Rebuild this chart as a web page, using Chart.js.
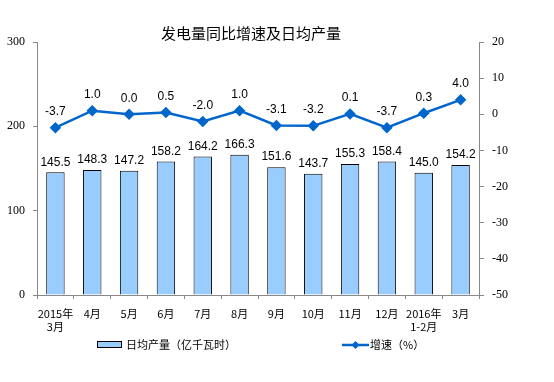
<!DOCTYPE html>
<html><head><meta charset="utf-8">
<script src="https://cdn.jsdelivr.net/npm/chart.js@4/dist/chart.umd.min.js"></script>
<style>html,body{margin:0;padding:0;background:#fff;}#wrap{width:554px;height:382px;}</style>
</head><body><div id="wrap"><canvas id="c" width="554" height="382"></canvas></div>
<script>
const categories = [['2015年','3月'],'4月','5月','6月','7月','8月','9月','10月','11月','12月',['2016年','1-2月'],'3月'];
const dailyOutput = [145.5,148.3,147.2,158.2,164.2,166.3,151.6,143.7,155.3,158.4,145.0,154.2];
const growthRate = [-3.7,1.0,0.0,0.5,-2.0,1.0,-3.1,-3.2,0.1,-3.7,0.3,4.0];
const leftTicks = [0,100,200,300];
const rightTicks = [-50,-40,-30,-20,-10,0,10,20];
const titleText = '发电量同比增速及日均产量';
const barLabel = '日均产量（亿千瓦时）';
const lineLabel = '增速（%）';

const CJK = '"Noto Sans CJK SC", sans-serif';
const SERIF = '"Liberation Serif", serif';
const SANS = '"Liberation Sans", Arial, sans-serif';

const labelsPlugin = {
  id: 'labelsPlugin',
  afterDatasetsDraw(chart) {
    const ctx = chart.ctx;
    ctx.save();
    ctx.fillStyle = '#000';
    ctx.font = '12px ' + SANS;
    ctx.textAlign = 'center';
    ctx.textBaseline = 'bottom';
    chart.getDatasetMeta(0).data.forEach((el, i) => {
      ctx.fillText(dailyOutput[i].toFixed(1), el.x, el.y - 4);
    });
    chart.getDatasetMeta(1).data.forEach((el, i) => {
      ctx.fillText(growthRate[i].toFixed(1), el.x, el.y - 10);
    });
    // title
    ctx.font = '15px ' + CJK;
    ctx.textBaseline = 'middle';
    ctx.fillText(titleText, 251, 33);
    // legend
    ctx.textAlign = 'left';
    ctx.font = '11px ' + CJK;
    ctx.fillStyle = '#99CCFF';
    ctx.fillRect(97, 341, 25, 7);
    ctx.strokeStyle = '#000';
    ctx.lineWidth = 1;
    ctx.strokeRect(97.5, 341.5, 24, 6);
    ctx.fillStyle = '#000';
    ctx.fillText(barLabel, 126, 345);
    ctx.strokeStyle = '#0066CC';
    ctx.lineWidth = 2.5;
    ctx.beginPath(); ctx.moveTo(342, 345); ctx.lineTo(369, 345); ctx.stroke();
    ctx.fillStyle = '#0066CC';
    ctx.beginPath(); ctx.moveTo(355.5, 341); ctx.lineTo(359.5, 345); ctx.lineTo(355.5, 349); ctx.lineTo(351.5, 345); ctx.closePath(); ctx.fill();
    ctx.fillStyle = '#000';
    ctx.fillText(lineLabel, 370, 345);
    ctx.restore();
  }
};

new Chart(document.getElementById('c'), {
  data: {
    labels: categories,
    datasets: [
      { type: 'bar', label: barLabel, data: dailyOutput, yAxisID: 'y',
        backgroundColor: '#99CCFF', borderColor: '#000', borderWidth: 1,
        barPercentage: 0.5, categoryPercentage: 1.0, order: 2 },
      { type: 'line', label: lineLabel, data: growthRate, yAxisID: 'y1',
        borderColor: '#0066CC', backgroundColor: '#0066CC', borderWidth: 2.5,
        pointStyle: 'rectRot', pointRadius: 4, pointHoverRadius: 4, tension: 0, order: 1 }
    ]
  },
  options: {
    responsive: false, animation: false,
    layout: { padding: { top: 42, left: 0, right: 0, bottom: 0 } },
    plugins: { legend: { display: false }, tooltip: { enabled: false } },
    scales: {
      x: {
        offset: true,
        grid: { display: true, drawOnChartArea: false, offset: true, tickLength: 4, color: '#888' },
        border: { color: '#888', width: 1 },
        ticks: { color: '#000', font: { family: CJK, size: 11 }, padding: 8, maxRotation: 0, autoSkip: false },
        afterFit(s) { s.height = 87; }
      },
      y: {
        position: 'left', min: 0, max: 300,
        afterBuildTicks(s) { s.ticks = leftTicks.map(v => ({ value: v })); },
        grid: { display: true, drawOnChartArea: false, tickLength: 4, color: '#888' },
        border: { color: '#888', width: 1 },
        ticks: { color: '#000', font: { family: SERIF, size: 12 }, padding: 8 },
        afterFit(s) { s.width = 37; }
      },
      y1: {
        position: 'right', min: -50, max: 20,
        afterBuildTicks(s) { s.ticks = rightTicks.map(v => ({ value: v })); },
        grid: { display: true, drawOnChartArea: false, tickLength: 5, color: '#888' },
        border: { color: '#888', width: 1 },
        ticks: { color: '#000', font: { family: SERIF, size: 12 }, padding: 8 },
        afterFit(s) { s.width = 75; }
      }
    }
  },
  plugins: [labelsPlugin]
});
</script></body></html>
